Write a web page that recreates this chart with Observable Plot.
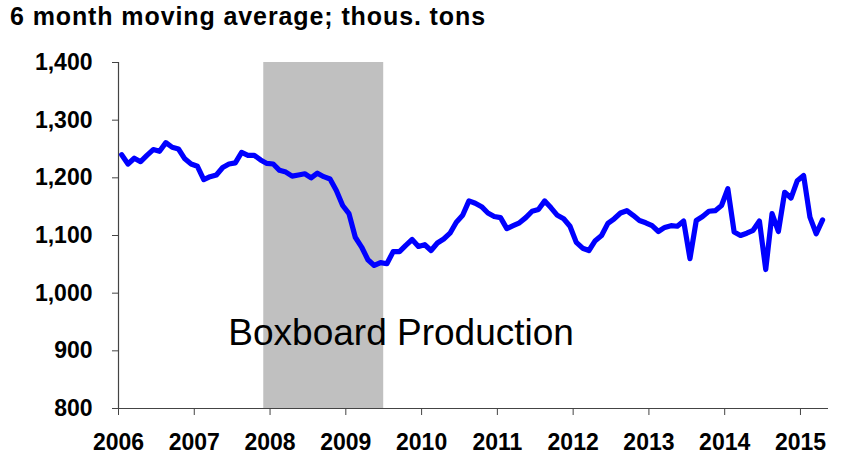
<!DOCTYPE html>
<html>
<head>
<meta charset="utf-8">
<script src="https://cdn.jsdelivr.net/npm/d3@7"></script>
<script src="https://cdn.jsdelivr.net/npm/@observablehq/plot@0.6"></script>
<style>
  html, body { margin: 0; padding: 0; background: #fff; }
  #title { font-family: "Liberation Sans", Arial, sans-serif; font-weight: bold; font-size: 25px;
           letter-spacing: 0.9px; height: 36px; line-height: 32px; padding-left: 10px; color: #000; white-space: nowrap; }
  #chart svg { display: block; }
</style>
</head>
<body>
<div id="title">6 month moving average; thous. tons</div>
<div id="chart"></div>
<script>
// Monthly series, starting January 2006 (6-month moving average, thousand tons)
const startYear = 2006;
const values = [
  1240, 1224, 1234, 1228, 1239, 1249, 1246, 1261, 1253, 1250, 1233, 1224,
  1220, 1197, 1202, 1205, 1218, 1224, 1226, 1244, 1239, 1239, 1231, 1225,
  1224, 1213, 1210, 1203, 1205, 1207, 1200, 1208, 1202, 1198, 1178, 1152,
  1138, 1097, 1080, 1058, 1048, 1053, 1051, 1072, 1072, 1083, 1093, 1081,
  1084, 1074, 1087, 1094, 1104, 1123, 1135, 1160, 1156, 1150, 1139, 1133,
  1131, 1112, 1117, 1122, 1131, 1142, 1145, 1160, 1148, 1135, 1129, 1116,
  1088, 1078, 1074, 1091, 1100, 1121, 1129, 1139, 1143, 1135, 1126, 1122,
  1117, 1107, 1114, 1117, 1116, 1125, 1060, 1126, 1133, 1142, 1143, 1152,
  1181, 1106, 1100, 1104, 1109, 1125, 1041, 1138, 1107, 1175, 1165, 1195,
  1204, 1132, 1103, 1127
];
// Recession period (decimal years): Dec 2007 – Jun 2009
const recessionStart = [2007.917];
const recessionEnd = [2009.5];
const yearTicks = [2006, 2007, 2008, 2009, 2010, 2011, 2012, 2013, 2014, 2015];
const yTicks = [800, 900, 1000, 1100, 1200, 1300, 1400];
const label = "Boxboard Production";

const data = values.map((v, i) => ({t: startYear + (i + 0.5) / 12, v}));
const rec = recessionStart.map((s, i) => ({s, e: recessionEnd[i]}));

const font = "'Liberation Sans', Arial, sans-serif";
const chart = Plot.plot({
  width: 847,
  height: 420,
  marginLeft: 118,
  marginRight: 19,
  marginTop: 26,
  marginBottom: 48,
  style: {fontFamily: font, color: "#000", background: "#fff"},
  x: {domain: [2006, 2015.37], ticks: yearTicks},
  y: {domain: [800, 1400], ticks: yTicks},
  marks: [
    Plot.rect(rec, {x1: "s", x2: "e", y1: 800, y2: 1400, fill: "#c0c0c0"}),
    Plot.lineY(data, {x: "t", y: "v", stroke: "#0000ff", strokeWidth: 5.2, strokeLinejoin: "round", strokeLinecap: "round"}),
    Plot.text([label], {x: 2009.73, y: 930, text: d => d, fontSize: 37, fill: "#000", fontFamily: font}),
    Plot.ruleX([2006], {stroke: "#444", strokeWidth: 1.2}),
    Plot.ruleY([800], {stroke: "#444", strokeWidth: 1.2}),
    Plot.axisY({ticks: yTicks, tickFormat: d3.format(","), tickSize: 6, tickPadding: 20,
      fontSize: 23, fontWeight: "bold", stroke: "#444", label: null}),
    Plot.axisX({ticks: yearTicks, tickFormat: d => String(d), tickSize: 7, tickPadding: 18,
      fontSize: 23, fontWeight: "bold", stroke: "#444", label: null})
  ]
});
document.getElementById("chart").appendChild(chart);
</script>
</body>
</html>
